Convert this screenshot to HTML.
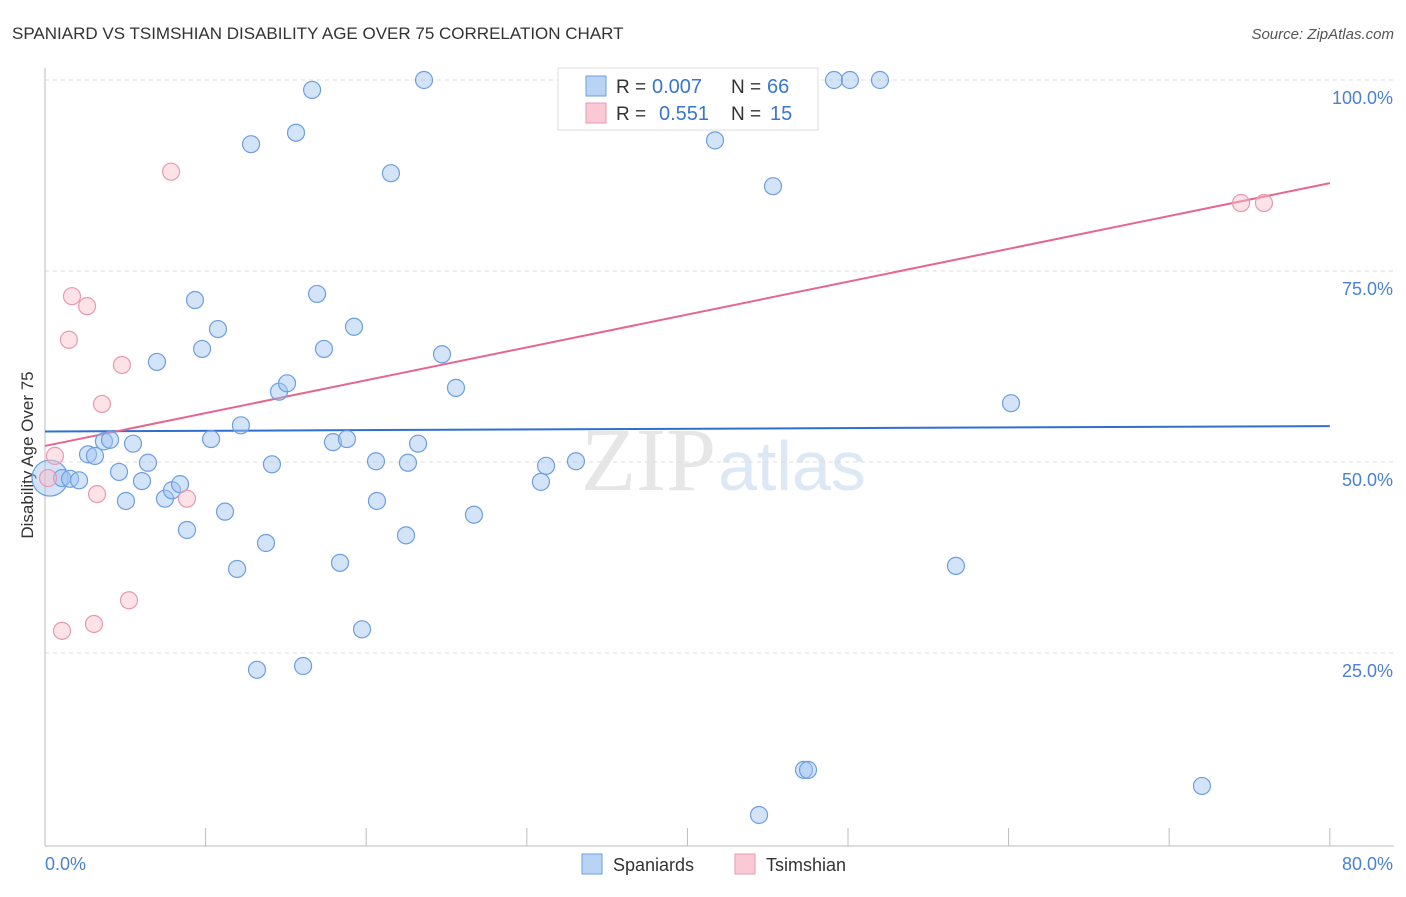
<!DOCTYPE html>
<html><head><meta charset="utf-8"><style>
body{margin:0;background:#fff;font-family:"Liberation Sans",sans-serif;}
</style></head><body>
<svg id="c" width="1406" height="892" xmlns="http://www.w3.org/2000/svg" font-family="Liberation Sans, sans-serif">
<text x="12" y="39" font-size="17" fill="#333">SPANIARD VS TSIMSHIAN DISABILITY AGE OVER 75 CORRELATION CHART</text>
<text x="1394" y="39" font-size="15" fill="#555" text-anchor="end" font-style="italic">Source: ZipAtlas.com</text>
<text x="716" y="490" font-size="90" fill="#e6e6e6" text-anchor="end" font-family="Liberation Serif, serif">ZIP</text>
<text x="718" y="490" font-size="70" fill="#dde8f6">atlas</text>
<text transform="translate(33,455) rotate(-90)" font-size="17" fill="#333" text-anchor="middle">Disability Age Over 75</text>
<g id="grid"></g><g id="axes"></g><g id="lines"></g><g id="pts"></g>
<g>
<rect x="558" y="68" width="260" height="62" fill="#fff" stroke="#ddd"/>
<rect x="586" y="76" width="20" height="20" fill="#b9d3f5" stroke="#6d9ee0"/>
<rect x="586" y="103" width="20" height="20" fill="#fbc9d6" stroke="#e899b0"/>
<text x="616" y="93" font-size="19" fill="#333">R =</text>
<text x="652" y="93" font-size="20" fill="#3a75d0">0.007</text>
<text x="731" y="93" font-size="19" fill="#333">N =</text>
<text x="767" y="93" font-size="20" fill="#3a75d0">66</text>
<text x="616" y="120" font-size="19" fill="#333">R =</text>
<text x="659" y="120" font-size="20" fill="#3a75d0">0.551</text>
<text x="731" y="120" font-size="19" fill="#333">N =</text>
<text x="770" y="120" font-size="20" fill="#3a75d0">15</text>
</g>
<g>
<rect x="582" y="854" width="20" height="20" fill="#b9d3f5" stroke="#6d9ee0"/>
<text x="613" y="871" font-size="18" fill="#333">Spaniards</text>
<rect x="735" y="854" width="20" height="20" fill="#fbc9d6" stroke="#e899b0"/>
<text x="766" y="871" font-size="18" fill="#333">Tsimshian</text>
</g>
</svg>
<script>
const blueX=[0.31,1.06,1.56,2.12,2.68,3.11,3.67,4.05,4.61,5.04,5.48,6.04,6.41,6.97,7.47,7.91,8.41,8.84,9.34,9.78,10.34,10.77,11.21,11.96,12.20,12.83,13.20,13.76,14.13,14.57,15.07,15.63,16.07,16.63,16.94,17.37,17.93,18.37,18.80,19.24,19.74,20.61,20.67,21.54,22.48,22.60,23.23,23.60,24.72,25.59,26.71,30.88,31.20,33.06,41.72,45.33,47.26,47.51,44.46,49.13,50.12,51.99,56.72,60.15,72.04];
const blueY=[47.9,47.9,47.8,47.6,51.0,50.8,52.7,52.9,48.7,44.9,52.4,47.5,49.9,63.1,45.2,46.3,47.1,41.1,71.2,64.8,53.0,67.4,43.5,36.0,54.8,91.6,22.8,39.4,49.7,59.2,60.3,93.1,23.3,98.7,72.0,64.8,52.6,36.8,53.0,67.7,28.1,50.1,44.9,87.8,40.4,49.9,52.4,100,64.1,59.7,43.1,47.4,49.5,50.1,92.1,86.1,9.7,9.7,3.8,100,100,100,36.4,57.7,7.6];
const pinkX=[0.19,0.62,1.06,1.49,1.68,2.62,3.05,3.24,3.55,4.79,5.23,7.85,8.84,74.47,75.90];
const pinkY=[47.9,50.8,27.9,66.0,71.7,70.4,28.8,45.8,57.6,62.7,31.9,88.0,45.2,83.9,83.9];
const blueLine=[54.0,54.7];
const pinkLine=[52.1,86.5];
const yTicks=[25,50,75,100];
const yTickLabels=["25.0%","50.0%","75.0%","100.0%"];
const xTicks=[0,10,20,30,40,50,60,70,80];
const NS="http://www.w3.org/2000/svg";
const sx=v=>45+v*16.06, sy=v=>844-v*7.64;
function mk(p,t,a){const e=document.createElementNS(NS,t);for(const k in a)e.setAttribute(k,a[k]);document.getElementById(p).appendChild(e);return e;}
yTicks.forEach((t,i)=>{
 const g=mk('grid','line',{x1:45,x2:1394,y1:sy(t),y2:sy(t),stroke:'#ddd','stroke-dasharray':'4,4'});
 
 
 const tx=mk('axes','text',{x:1393,y:sy(t)+24,'font-size':18,fill:'#4a80d6','text-anchor':'end'});
 tx.textContent=yTickLabels[i];
 
 
});
const ya=mk('axes','line',{x1:45,x2:45,y1:68,y2:846,stroke:'#bbb'});


const xa=mk('axes','line',{x1:45,x2:1394,y1:846,y2:846,stroke:'#bbb'});


xTicks.forEach(t=>{
 const l=mk('axes','line',{x1:sx(t),x2:sx(t),y1:828,y2:846,stroke:'#bbb'});
 
 
});
const x0=mk('axes','text',{x:45,y:870,'font-size':18,fill:'#4a80d6'});x0.textContent='0.0%';


const x1=mk('axes','text',{x:1393,y:870,'font-size':18,fill:'#4a80d6','text-anchor':'end'});x1.textContent='80.0%';


blueX.forEach((x,i)=>{
 const c=mk('pts','circle',{cx:sx(x),cy:sy(blueY[i]),r:i===0?18:8.5,fill:'rgba(160,196,240,0.45)',stroke:'#6d9ee0','stroke-width':1.2});
 
 
});
pinkX.forEach((x,i)=>{
 const c=mk('pts','circle',{cx:sx(x),cy:sy(pinkY[i]),r:8.5,fill:'rgba(250,190,205,0.45)',stroke:'#e899b0','stroke-width':1.2});
 
 
});
const bl=mk('lines','line',{x1:sx(0),x2:sx(80),y1:sy(blueLine[0]),y2:sy(blueLine[1]),stroke:'#2f6fd0','stroke-width':2});


const pl=mk('lines','line',{x1:sx(0),x2:sx(80),y1:sy(pinkLine[0]),y2:sy(pinkLine[1]),stroke:'#e5668f','stroke-width':2});


</script>
</body></html>
